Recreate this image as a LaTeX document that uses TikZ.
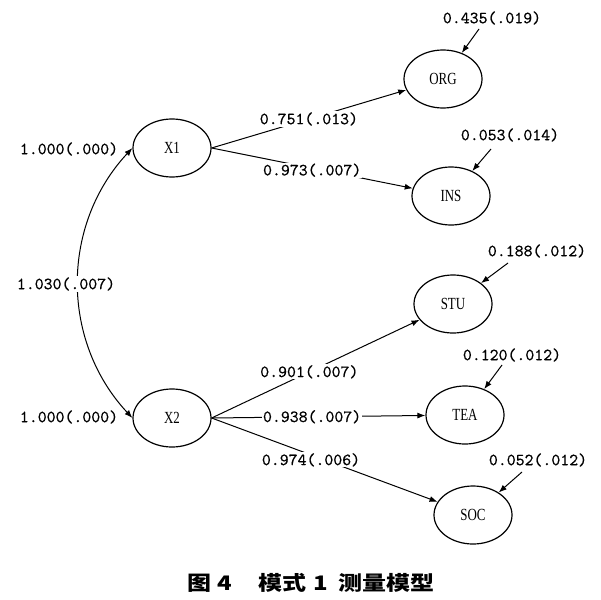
\documentclass[tikz,border=0pt]{standalone}
\usepackage{graphicx}
\usepackage{fontspec}
\setmainfont{Liberation Serif}
\newfontfamily\cjk{Noto Sans CJK SC}
\newfontfamily\lbl{lmmono10-regular.otf}[FakeBold=0.6]
\usetikzlibrary{shapes.geometric,arrows.meta}
\newcommand{\nm}[1]{\scalebox{0.76}[1]{#1}}
\begin{document}
\begin{tikzpicture}[x=1pt,y=-1pt,
  lat/.style={ellipse,draw,line width=1.2pt,minimum width=78pt,minimum height=58pt,inner sep=0pt,font=\fontsize{17}{17}\selectfont},
  val/.style={font=\fontsize{17}{17}\lbl,inner sep=1pt},
  onl/.style={val,fill=white},
  arr/.style={line width=1pt,-{Latex[length=8pt,width=6pt]}},
]
\useasboundingbox[fill=white] (0,0) rectangle (601,599);
% latent and observed variables
\node[lat] (x1) at (172,148) {\nm{X1}};
\node[lat] (x2) at (172,418) {\nm{X2}};
\node[lat] (org) at (443,79) {\nm{ORG}};
\node[lat] (ins) at (451,196) {\nm{INS}};
\node[lat] (stu) at (453,304) {\nm{STU}};
\node[lat] (tea) at (465,415) {\nm{TEA}};
\node[lat] (soc) at (473,515) {\nm{SOC}};
% covariance
\draw[line width=1pt,{Latex[length=8pt,width=6pt]}-{Latex[length=8pt,width=6pt]}] (x1.west) to[bend right=43] (x2.west);
\node[onl] (cov) at (66,284) {1.030(.007)};
\node[val] (v1) at (69,149) {1.000(.000)};
\node[val] (v2) at (69,417) {1.000(.000)};
% loadings
\draw[arr] (x1.east) -- node[onl,pos=0.5] (l1) {0.751(.013)} (org);
\draw[arr] (x1.east) -- node[onl,pos=0.5,yshift=-2pt] (l2) {0.973(.007)} (ins);
\draw[arr] (x2.east) -- node[onl,pos=0.47] (l3) {0.901(.007)} (stu);
\draw[arr] (x2.east) -- node[onl,pos=0.47] (l4) {0.938(.007)} (tea);
\draw[arr] (x2.east) -- node[onl,pos=0.44,yshift=-5pt] (l5) {0.974(.006)} (soc);
% error variances
\node[val] (e1) at (492,18) {0.435(.019)};
\node[val] (e2) at (510,135) {0.053(.014)};
\node[val] (e3) at (537,251) {0.188(.012)};
\node[val] (e4) at (512,355) {0.120(.012)};
\node[val] (e5) at (538,460) {0.052(.012)};
\coordinate (s1) at (479,29);
\coordinate (s2) at (491,149);
\coordinate (s3) at (508,263);
\coordinate (s4) at (502,365);
\coordinate (s5) at (522,472);
\draw[arr] (s1) -- (org);
\draw[arr] (s2) -- (ins);
\draw[arr] (s3) -- (stu);
\draw[arr] (s4) -- (tea);
\draw[arr] (s5) -- (soc);
% caption
\node[font=\fontsize{20}{20}\cjk\bfseries,inner sep=0pt] (cap) at (311,583) {\scalebox{1.2}[1]{图\hspace{5pt}4\hspace{22pt}模式\hspace{6pt}1\hspace{9pt}测量模型}};
\end{tikzpicture}
\end{document}
